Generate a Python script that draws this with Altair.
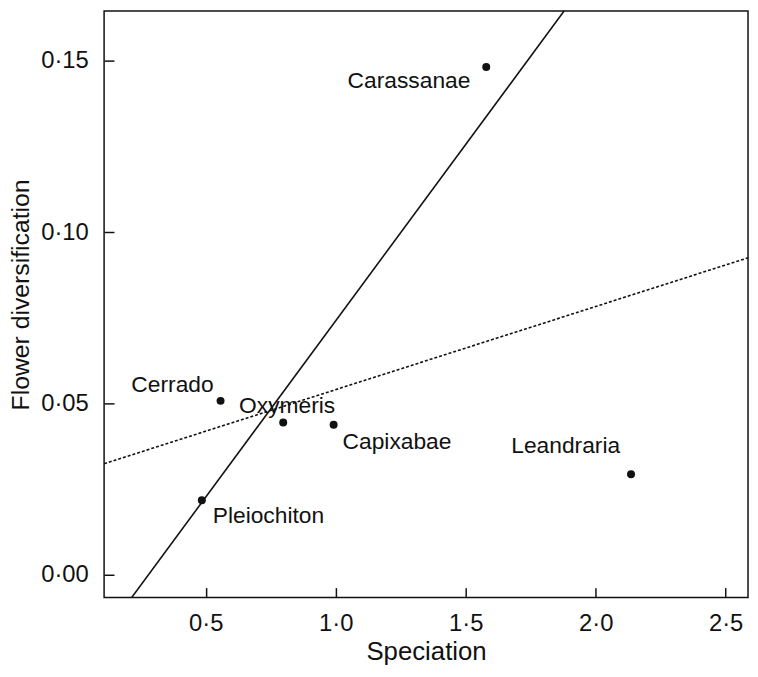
import altair as alt
import pandas as pd

# ---- data ----
names = ["Carassanae", "Cerrado", "Oxymeris", "Capixabae", "Pleiochiton", "Leandraria"]
speciation = [1.579, 0.557, 0.798, 0.992, 0.485, 2.136]
flower_div = [0.1482, 0.0507, 0.0444, 0.0437, 0.0217, 0.0293]

x_ticks = [0.5, 1.0, 1.5, 2.0, 2.5]
y_ticks = [0.00, 0.05, 0.10, 0.15]
x_domain = [0.109, 2.586]
y_domain = [-0.00675, 0.16455]

# regression lines: (intercept, slope)
solid_fit = (-0.0289, 0.1030)
dotted_fit = (0.0297, 0.02428)

# ---- label placement (style) ----
label_style = {
    "Carassanae": ("right", -16, 14),
    "Cerrado": ("right", -7, -16),
    "Oxymeris": ("center", 4, -17),
    "Capixabae": ("left", 9, 17),
    "Pleiochiton": ("left", 11, 16),
    "Leandraria": ("right", -11, -28),
}

FONT = "Liberation Sans"
INK = "#111"

pts = pd.DataFrame({"name": names, "x": speciation, "y": flower_div})

def fit_df(fit):
    a, b = fit
    xs = list(x_domain)
    return pd.DataFrame({"x": xs, "y": [a + b * v for v in xs]})

xscale = alt.Scale(domain=x_domain, nice=False, zero=False)
yscale = alt.Scale(domain=y_domain, nice=False, zero=False)

xaxis = alt.Axis(
    title="Speciation", values=x_ticks,
    labelExpr="replace(format(datum.value, '.1f'), '.', '·')",
    offset=-10, tickSize=10, domain=False, grid=False,
    labelPadding=14, titlePadding=4,
    labelFontSize=24, titleFontSize=26, labelFont=FONT, titleFont=FONT,
    labelColor=INK, titleColor=INK, titleFontWeight="normal",
    tickColor=INK, tickWidth=1.5,
)
yaxis = alt.Axis(
    title="Flower diversification", values=y_ticks,
    labelExpr="replace(format(datum.value, '.2f'), '.', '·')",
    offset=-10, tickSize=10, domain=False, grid=False,
    labelPadding=16, titlePadding=7, titleY=286,
    labelFontSize=24, titleFontSize=25, labelFont=FONT, titleFont=FONT,
    labelColor=INK, titleColor=INK, titleFontWeight="normal",
    tickColor=INK, tickWidth=1.5,
)

base_pts = alt.Chart(pts)

points = base_pts.mark_circle(size=65, color=INK, opacity=1).encode(
    x=alt.X("x:Q", scale=xscale, axis=xaxis),
    y=alt.Y("y:Q", scale=yscale, axis=yaxis),
)

solid = alt.Chart(fit_df(solid_fit)).mark_line(color=INK, strokeWidth=1.6, clip=True).encode(
    x=alt.X("x:Q", scale=xscale), y=alt.Y("y:Q", scale=yscale)
)
dotted = alt.Chart(fit_df(dotted_fit)).mark_line(
    color=INK, strokeWidth=1.6, strokeDash=[3, 2], clip=True
).encode(x=alt.X("x:Q", scale=xscale), y=alt.Y("y:Q", scale=yscale))

labels = []
for nm in names:
    align, dx, dy = label_style[nm]
    labels.append(
        base_pts.transform_filter(alt.datum.name == nm).mark_text(
            align=align, baseline="middle", dx=dx, dy=dy,
            font=FONT, fontSize=23, color=INK,
        ).encode(x=alt.X("x:Q", scale=xscale), y=alt.Y("y:Q", scale=yscale), text="name:N")
    )

chart = alt.layer(dotted, solid, points, *labels).properties(
    width=650, height=592,
    background="white",
    autosize=alt.AutoSizeParams(type="none"),
    padding={"left": 97, "top": 0, "right": 2, "bottom": 69},
).configure_view(stroke=INK, strokeWidth=1.5)

chart.save("out.html", embed_options={"renderer": "svg", "actions": False})
